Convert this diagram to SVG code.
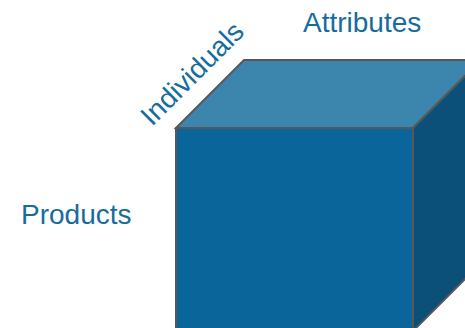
<svg xmlns="http://www.w3.org/2000/svg" width="465" height="328" viewBox="0 0 465 328">
  <style>
    .edge { stroke: #575757; stroke-width: 2; stroke-linejoin: miter; }
    .label { font-family: "Liberation Sans", Arial, sans-serif; font-size: 28px; fill: #176c9e; }
  </style>
  <rect width="465" height="328" fill="#ffffff"/>
  <g id="cube">
    <polygon id="cube-top" class="edge" fill="#3c86ad" points="176,128 244,60 481,60 413,128"/>
    <polygon id="cube-right" class="edge" fill="#0b5079" points="413,128 481,60 481,263 413,331"/>
    <rect id="cube-front" class="edge" fill="#09659a" x="176" y="128" width="237" height="203"/>
  </g>
  <g id="axis-labels">
    <text id="label-attributes" class="label" x="303" y="32">Attributes</text>
    <text id="label-products" class="label" x="21" y="224">Products</text>
    <text id="label-individuals" class="label" x="152" y="127" transform="rotate(-45 152 127)">Individuals</text>
  </g>
</svg>
